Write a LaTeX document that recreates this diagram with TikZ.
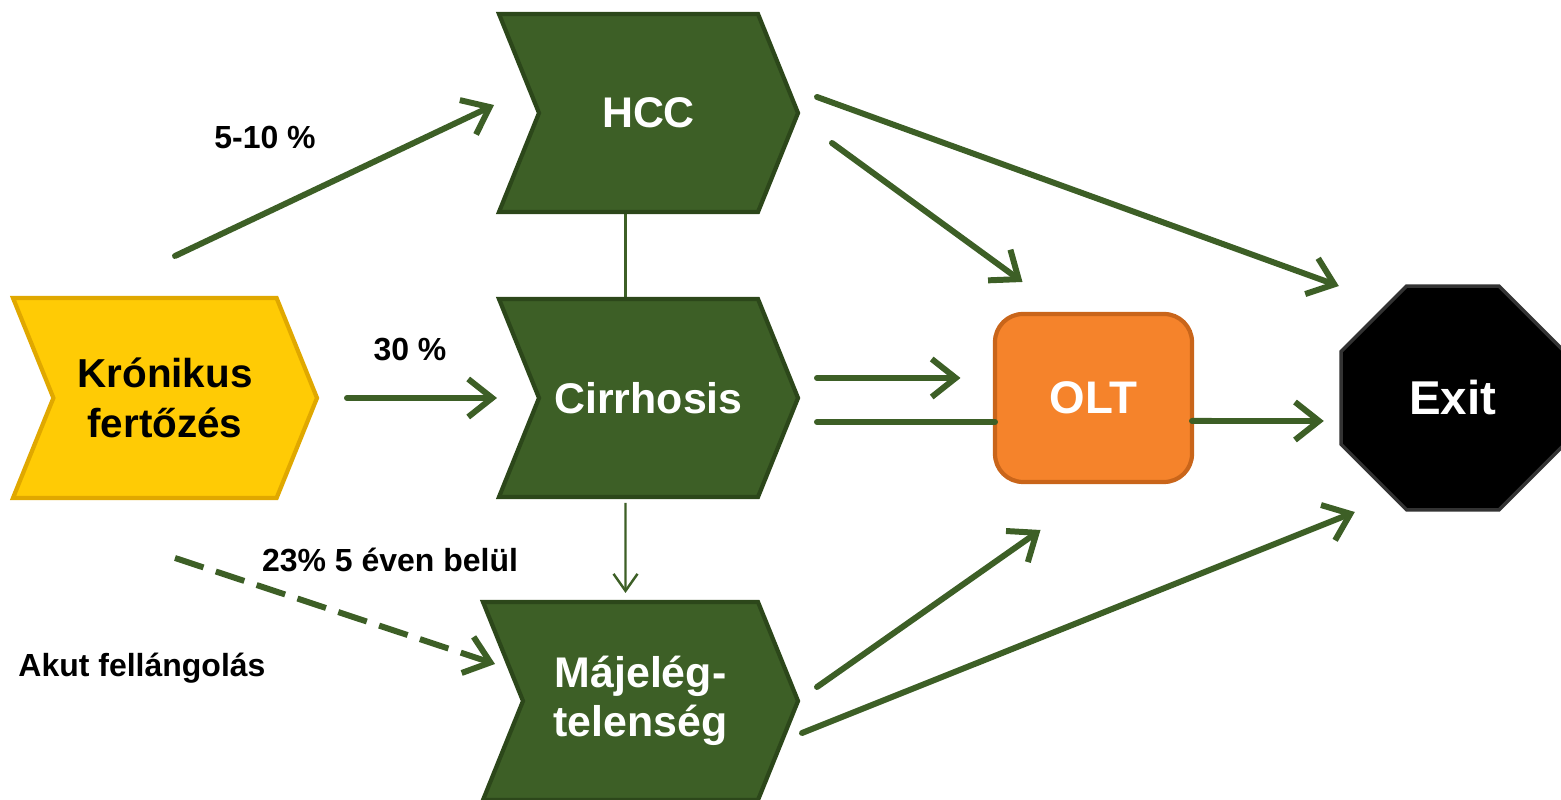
\documentclass[tikz,border=0pt]{standalone}
\usepackage{fontspec}
\setmainfont{Liberation Sans}
\usetikzlibrary{positioning, shapes.symbols, shapes.geometric, arrows.meta, backgrounds}

\definecolor{leaf}{HTML}{3D5F26}
\definecolor{leafdark}{HTML}{2C471A}
\definecolor{sun}{HTML}{FFCB05}
\definecolor{sundark}{HTML}{E0A800}
\definecolor{carrot}{HTML}{F5832B}
\definecolor{carrotdark}{HTML}{C9651A}

\begin{document}
\begin{tikzpicture}[
    >={Straight Barb[length=2.4mm, width=3.8mm]},
    every node/.style = {inner sep=0pt, outer sep=0pt, align=center},
    chevron/.style = {signal, signal from=west, signal to=east, signal pointer angle=136,
        minimum width=2.99cm, minimum height=1.98cm, fill=leaf, draw=leafdark, line width=1.2pt,
        text=white, font=\bfseries\fontsize{12.2}{13.8}\selectfont},
    flow/.style = {->, draw=leaf, line width=1.7pt, line cap=round},
    slim/.style = {-{Straight Barb[length=1.7mm, width=2.4mm]}, draw=leaf, line width=0.7pt},
    tag/.style = {font=\bfseries\fontsize{9.1}{11}\selectfont}
]
    \useasboundingbox (0,0) rectangle (15.61,8);

    \node [chevron, fill=sun, draw=sundark, text=black, minimum width=3.04cm, minimum height=2cm,
        font=\bfseries\fontsize{11.5}{14.2}\selectfont] (kron) at (1.65,4.02) {Krónikus\\fertőzés};
    \node [chevron, right=2.22cm of kron] (cirr) {Cirrhosis};
    \node [chevron, above=0.87cm of cirr] (hcc) {HCC};
    \node [chevron, below=1.05cm of cirr, xshift=-0.08cm, minimum width=3.15cm] (maj) {Májelég-\\telenség};
    \node [right=1.97cm of cirr, draw=carrotdark, fill=carrot, line width=1.2pt, rounded corners=0.28cm,
        minimum width=1.97cm, minimum height=1.68cm, text=white,
        font=\bfseries\fontsize{13}{15}\selectfont] (olt) {OLT};
    \node [right=1.49cm of olt, regular polygon, regular polygon sides=8, minimum size=2.42cm,
        fill=black, draw=black!80, line width=1pt, text=white,
        font=\bfseries\fontsize{13.5}{15}\selectfont] (exit) {Exit};

    \node [tag] (p510) at (2.65,6.62) {5-10 \%};
    \node [tag] (p30) at (4.10,4.50) {30 \%};
    \node [tag] (p23) at (3.90,2.40) {23\% 5 éven belül};
    \node [tag] (akut) at (1.42,1.32) {Akut fellángolás};

    \draw [flow] ([shift={(0.10,1.42)}]kron.center) -- ([shift={(-1.545,0.08)}]hcc.center);
    \draw [flow] ([shift={(1.82,0)}]kron.center) -- ([shift={(-1.515,0)}]cirr.center);
    \draw [flow, dash pattern=on 0.3cm off 0.13cm, line cap=butt]
        ([shift={(0.10,-1.60)}]kron.center) -- ([shift={(-1.455,0.37)}]maj.center);

    % head of the upward arrow sits under the HCC box
    \begin{pgfonlayer}{background}
        \draw [slim] ([xshift=-0.23cm]cirr.north) -- ([shift={(-0.23,0.2)}]hcc.south);
    \end{pgfonlayer}
    \draw [slim] ([shift={(-0.23,-0.06)}]cirr.south) -- ([shift={(-0.15,0.09)}]maj.north);

    \draw [flow] ([shift={(1.835,-0.30)}]hcc.center) -- ([shift={(-0.71,1.16)}]olt.center);
    \draw [flow] ([shift={(1.685,0.16)}]hcc.center) -- ([shift={(-1.14,1.12)}]exit.center);
    \draw [flow] ([shift={(1.685,0.20)}]cirr.center) -- ([shift={(-1.33,0.20)}]olt.center);
    \draw [flow, -] ([shift={(1.685,-0.24)}]cirr.center) -- ([yshift=-0.24cm]olt.west);
    \draw [flow] ([yshift=-0.23cm]olt.east) -- ([shift={(-1.29,-0.23)}]exit.center);
    \draw [flow] ([shift={(1.765,0.14)}]maj.center) -- ([shift={(-0.53,-1.32)}]olt.center);
    \draw [flow] ([shift={(1.615,-0.32)}]maj.center) -- ([shift={(-0.98,-1.14)}]exit.center);
\end{tikzpicture}
\end{document}
